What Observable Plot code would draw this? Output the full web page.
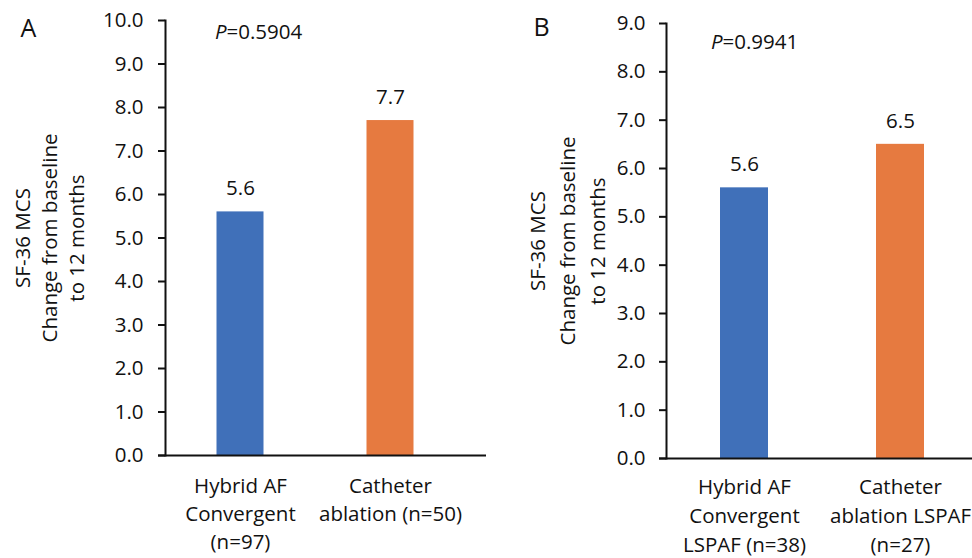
<!DOCTYPE html>
<html>
<head>
<meta charset="utf-8">
<script src="https://cdn.jsdelivr.net/npm/d3@7"></script>
<script src="https://cdn.jsdelivr.net/npm/@observablehq/plot@0.6"></script>
<style>
  html, body { margin: 0; padding: 0; background: #fff; }
  #wrap { width: 972px; height: 558px; display: flex; overflow: hidden; background: #fff; }
  #wrap svg { overflow: hidden; }
</style>
</head>
<body>
<div id="wrap"></div>
<script>
// ---- data ----
const categoriesA = ["Hybrid AF\nConvergent\n(n=97)", "Catheter\nablation (n=50)"];
const valuesA = [5.6, 7.7];
const yTicksA = [0, 1, 2, 3, 4, 5, 6, 7, 8, 9, 10];
const pValueA = "0.5904";

const categoriesB = ["Hybrid AF\nConvergent\nLSPAF (n=38)", "Catheter\nablation LSPAF\n(n=27)"];
const valuesB = [5.6, 6.5];
const yTicksB = [0, 1, 2, 3, 4, 5, 6, 7, 8, 9];
const pValueB = "0.9941";

const yTitle = "SF-36 MCS\nChange from baseline\nto 12 months";
const panelLabels = ["A", "B"];

// ---- drawing ----
const FONT = "'Open Sans', sans-serif";
const FS = 20.5;
const colors = ["#4070B9", "#E67A40"];
const fmt = d3.format(".1f");

function panel({cats, vals, ticks, p, label, width, marginLeft, marginTop, marginBottom, xRange, inset, lhX, lhTitle, titleDx, letterDx, letterDy, pDx, pDy, xLabDy, tickPad}) {
  const rows = cats.map((c, i) => ({cat: c, value: vals[i], color: colors[i]}));
  const yMax = ticks[ticks.length - 1];
  return Plot.plot({
    width, height: 558,
    marginLeft, marginTop, marginBottom, marginRight: 0,
    style: {fontFamily: FONT, fontSize: FS + "px", color: "#111", background: "white"},
    x: {domain: cats, range: xRange, padding: 0, axis: null},
    y: {domain: [0, yMax], axis: null},
    marks: [
      Plot.barY(rows, {x: "cat", y: "value", fill: "color", insetLeft: inset, insetRight: inset}),
      Plot.axisY({ticks, tickFormat: fmt, tickSize: 7, tickPadding: tickPad, strokeWidth: 2, fontSize: FS, label: null}),
      Plot.frame({anchor: "left", strokeWidth: 2}),
      Plot.ruleY([0], {insetLeft: -7, strokeWidth: 2}),
      Plot.text(rows, {x: "cat", y: "value", text: d => fmt(d.value), dy: -23, lineAnchor: "middle", fontSize: FS}),
      Plot.text(rows, {x: "cat", frameAnchor: "bottom", text: "cat", dy: xLabDy, textAnchor: "middle", lineAnchor: "top", lineHeight: lhX, fontSize: FS}),
      Plot.text([yTitle], {frameAnchor: "left", rotate: -90, dx: titleDx, textAnchor: "middle", lineAnchor: "middle", lineHeight: lhTitle, fontSize: FS}),
      Plot.text([label], {frameAnchor: "top-left", dx: letterDx, dy: letterDy, textAnchor: "start", lineAnchor: "middle", fontSize: 25}),
      Plot.text(["P"], {x: () => cats[0], frameAnchor: "top", dx: pDx, dy: pDy, textAnchor: "end", lineAnchor: "middle", fontStyle: "italic", fontSize: FS}),
      Plot.text(["=" + p], {x: () => cats[0], frameAnchor: "top", dx: pDx, dy: pDy, textAnchor: "start", lineAnchor: "middle", fontSize: FS})
    ]
  });
}

const wrap = document.getElementById("wrap");
wrap.appendChild(panel({
  cats: categoriesA, vals: valuesA, ticks: yTicksA, p: pValueA, label: panelLabels[0],
  width: 486, marginLeft: 165, marginTop: 20, marginBottom: 103, xRange: [165, 465], inset: 51.5,
  lhX: 28 / FS, lhTitle: 27 / FS, titleDx: 48 - 165, letterDx: 20 - 165, letterDy: 8, pDx: -14, pDy: 12, xLabDy: 18, tickPad: 15
}));
wrap.appendChild(panel({
  cats: categoriesB, vals: valuesB, ticks: yTicksB, p: pValueB, label: panelLabels[1],
  width: 486, marginLeft: 180, marginTop: 23, marginBottom: 100, xRange: [180, 492], inset: 54,
  lhX: 29 / FS, lhTitle: 30 / FS, titleDx: 79 - 180, letterDx: 47 - 180, letterDy: 4, pDx: -22, pDy: 19, xLabDy: 15, tickPad: 14
}));
</script>
</body>
</html>
